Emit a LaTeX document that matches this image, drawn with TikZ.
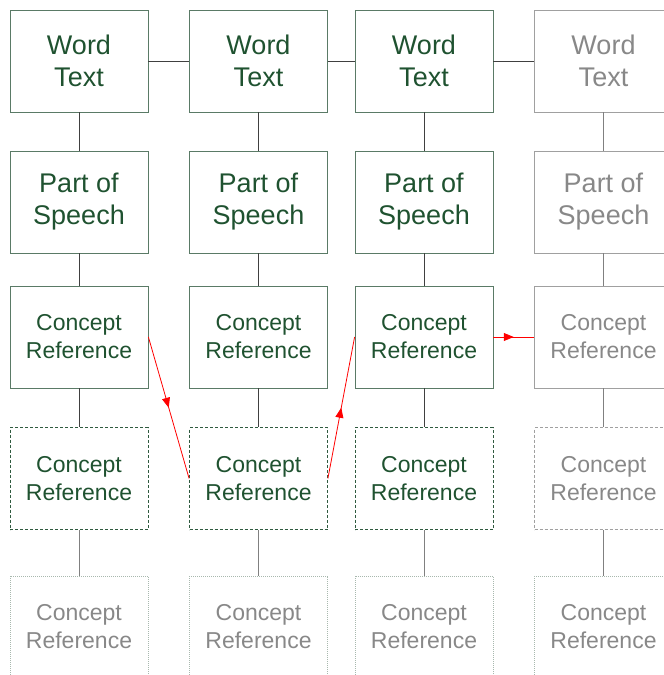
\documentclass[tikz,border=0pt]{standalone}
\usepackage{fontspec}
\setmainfont{Liberation Sans}
\usetikzlibrary{arrows.meta,decorations.markings}
\definecolor{tgreen}{HTML}{1F5230}
\definecolor{bgreen}{HTML}{5A7A66}
\definecolor{dgreen}{HTML}{2F5A3F}
\definecolor{tgray}{HTML}{888888}
\definecolor{bgray}{HTML}{A0A0A0}
\definecolor{lgray}{HTML}{A8B8AE}
\definecolor{linedark}{HTML}{404040}
\definecolor{linegray}{HTML}{808080}
\definecolor{redarrow}{HTML}{FF0000}
\tikzset{
  boxbase/.style={minimum width=138pt, minimum height=102pt, inner sep=0pt, align=center, line width=0.8pt},
  big/.style={font=\fontsize{27}{32}\selectfont},
  small/.style={font=\fontsize{23}{28}\selectfont},
  gbox/.style={boxbase, draw=bgreen, text=tgreen},
  gdash/.style={boxbase, draw=dgreen, text=tgreen, dash pattern=on 3pt off 2pt},
  ybox/.style={boxbase, draw=bgray, text=tgray},
  ydash/.style={boxbase, draw=bgray, text=tgray, dash pattern=on 3pt off 2pt},
  ydot/.style={boxbase, draw=lgray, text=tgray, dash pattern=on 1pt off 1pt},
  conn/.style={draw=linedark, line width=0.8pt},
  conng/.style={draw=linegray, line width=0.8pt},
  redarr/.style={draw=redarrow, line width=0.8pt, postaction={decorate},
    decoration={markings, mark=at position 0.5 with {\arrow[redarrow]{Triangle[length=10pt,width=8pt]}}}}
}
\begin{document}
\begin{tikzpicture}[x=1pt,y=-1pt]
\useasboundingbox (0,0) rectangle (664,675);
\clip (0,0) rectangle (664,675);
% row 1
\node[gbox,big] (w1) at (79,61) {Word\\Text};
\node[gbox,big] (w2) at (258.5,61) {Word\\Text};
\node[gbox,big] (w3) at (424,61) {Word\\Text};
\node[ybox,big] (w4) at (603.5,61) {Word\\Text};
% row 2
\node[gbox,big] (p1) at (79,202) {Part of\\Speech};
\node[gbox,big] (p2) at (258.5,202) {Part of\\Speech};
\node[gbox,big] (p3) at (424,202) {Part of\\Speech};
\node[ybox,big] (p4) at (603.5,202) {Part of\\Speech};
% row 3
\node[gbox,small] (c1) at (79,337) {Concept\\Reference};
\node[gbox,small] (c2) at (258.5,337) {Concept\\Reference};
\node[gbox,small] (c3) at (424,337) {Concept\\Reference};
\node[ybox,small] (c4) at (603.5,337) {Concept\\Reference};
% row 4
\node[gdash,small] (d1) at (79,478.5) {Concept\\Reference};
\node[gdash,small] (d2) at (258.5,478.5) {Concept\\Reference};
\node[gdash,small] (d3) at (424,478.5) {Concept\\Reference};
\node[ydash,small] (d4) at (603.5,478.5) {Concept\\Reference};
% row 5
\node[ydot,small] (e1) at (79,627) {Concept\\Reference};
\node[ydot,small] (e2) at (258.5,627) {Concept\\Reference};
\node[ydot,small] (e3) at (424,627) {Concept\\Reference};
\node[ydot,small] (e4) at (603.5,627) {Concept\\Reference};
% horizontal connectors
\draw[conn] (w1.east) -- (w2.west);
\draw[conn] (w2.east) -- (w3.west);
\draw[conn] (w3.east) -- (w4.west);
% vertical connectors
\foreach \i in {1,2,3}{
  \draw[conn] (w\i.south) -- (p\i.north);
  \draw[conn] (p\i.south) -- (c\i.north);
  \draw[conn] (c\i.south) -- (d\i.north);
  \draw[conng] (d\i.south) -- (e\i.north);
}
\draw[conng] (w4.south) -- (p4.north);
\draw[conng] (p4.south) -- (c4.north);
\draw[conng] (c4.south) -- (d4.north);
\draw[conng] (d4.south) -- (e4.north);
% red arrows
\draw[redarr] (c1.east) -- (d2.west);
\draw[redarr] (d2.east) -- (c3.west);
\draw[redarr] (c3.east) -- (c4.west);
\end{tikzpicture}
\end{document}
